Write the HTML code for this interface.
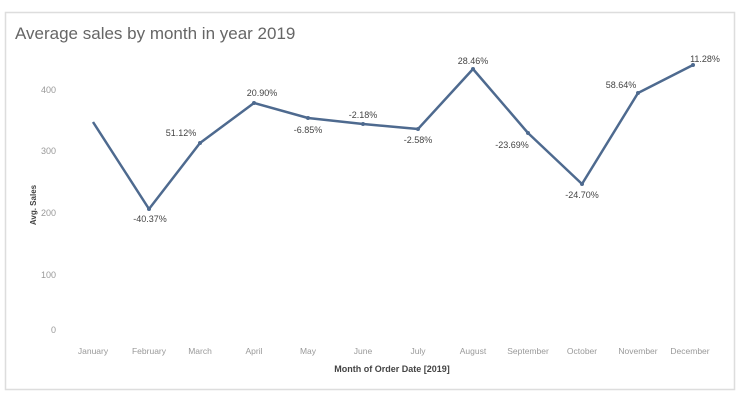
<!DOCTYPE html>
<html><head><meta charset="utf-8"><style>
html,body{margin:0;padding:0;background:#fff;width:744px;height:405px;overflow:hidden}
svg{display:block}
text{font-family:"Liberation Sans",sans-serif}
</style></head><body>
<svg width="744" height="405" viewBox="0 0 744 405">
<rect x="5.5" y="12.5" width="729" height="377" fill="#fff" stroke="#ddd" stroke-width="1.5"/>
<text x="15" y="39" font-size="17" fill="#666">Average sales by month in year 2019</text>
<g font-size="9" fill="#999" text-anchor="end">
<text x="56" y="93">400</text><text x="56" y="154">300</text><text x="56" y="216">200</text><text x="56" y="278">100</text><text x="56" y="333">0</text>
</g>
<text transform="translate(36,205) rotate(-90)" font-size="8" fill="#444" text-anchor="middle" font-weight="bold">Avg. Sales</text>
<polyline fill="none" stroke="#4e6a8f" stroke-width="2.5" stroke-linejoin="round" points="93,122 149,209 200,143 254,103 308,118 363,124 418,129 473,69 528,133 582,184 638,93 693,65"/>
<g fill="#4e6a8f">
<circle cx="149" cy="209" r="2"/><circle cx="200" cy="143" r="2"/><circle cx="254" cy="103" r="2"/><circle cx="308" cy="118" r="2"/><circle cx="363" cy="124" r="2"/><circle cx="418" cy="129" r="2"/><circle cx="473" cy="69" r="2"/><circle cx="528" cy="133" r="2"/><circle cx="582" cy="184" r="2"/><circle cx="638" cy="93" r="2"/><circle cx="693" cy="65" r="2"/>
</g>
<g font-size="9" fill="#444" text-anchor="middle">
<text x="150" y="222">-40.37%</text><text x="181" y="136">51.12%</text><text x="262" y="96">20.90%</text>
<text x="308" y="133">-6.85%</text><text x="363" y="118">-2.18%</text><text x="418" y="143">-2.58%</text>
<text x="473" y="64">28.46%</text><text x="512" y="148">-23.69%</text><text x="582" y="198">-24.70%</text>
<text x="621" y="88">58.64%</text><text x="705" y="62">11.28%</text>
</g>
<g font-size="8.5" fill="#999" text-anchor="middle">
<text x="93" y="354">January</text><text x="149" y="354">February</text><text x="200" y="354">March</text><text x="254" y="354">April</text><text x="308" y="354">May</text><text x="363" y="354">June</text><text x="418" y="354">July</text><text x="473" y="354">August</text><text x="528" y="354">September</text><text x="582" y="354">October</text><text x="638" y="354">November</text><text x="690" y="354">December</text>
</g>
<text x="392" y="372" font-size="9" fill="#444" text-anchor="middle" font-weight="bold">Month of Order Date [2019]</text>
</svg>
</body></html>
